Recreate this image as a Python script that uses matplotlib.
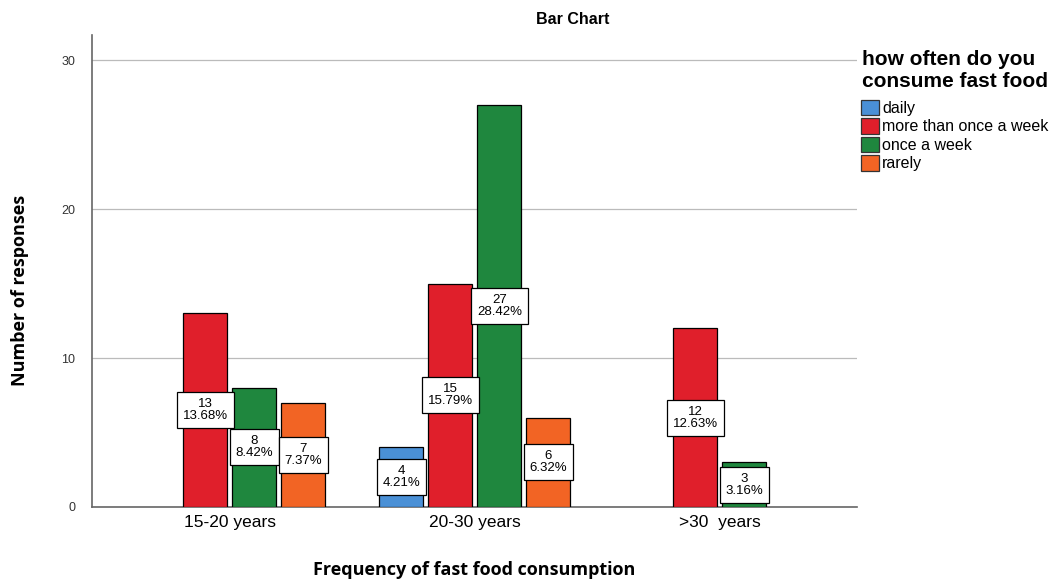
import numpy as np
import matplotlib
matplotlib.use("Agg")
import matplotlib.pyplot as plt

plt.rcParams['font.family'] = ['Liberation Sans', 'DejaVu Sans']

groups = ['15-20 years', '20-30 years', '>30  years']
series = ['daily', 'more than once a week', 'once a week', 'rarely']
counts = {
    'daily':                 [0, 4, 0],
    'more than once a week': [13, 15, 12],
    'once a week':           [8, 27, 3],
    'rarely':                [7, 6, 0],
}
colors = ['#4a90d6', '#e01f2b', '#1f873e', '#f26424']
total = 95

fig = plt.figure(figsize=(10.64, 5.81), dpi=100)
ax = fig.add_axes([0.0865, 0.1274, 0.719, 0.8124])

x = np.arange(len(groups))
slot = 0.2
width = 0.18
for i, (name, col) in enumerate(zip(series, colors)):
    vals = np.array(counts[name])
    xs = x + (i - 1.5) * slot
    keep = vals > 0
    ax.bar(xs[keep], vals[keep], width, color=col, edgecolor='black',
           linewidth=0.9, label=name, zorder=3)
    for xv, v in zip(xs[keep], vals[keep]):
        ax.text(xv, v / 2, f'{v}\n{v / total * 100:.2f}%', ha='center', va='center',
                fontsize=9.5, linespacing=1.0, zorder=4,
                bbox=dict(boxstyle='square,pad=0.45', fc='white', ec='black', lw=0.9))

ax.set_xlim(-0.563, 2.56)
ax.set_ylim(0, 31.7)
ax.set_yticks([0, 10, 20, 30])
ax.set_xticks(x)
ax.set_xticklabels(groups, fontsize=12.5)
ax.tick_params(axis='y', length=0, labelsize=9, labelcolor='#333333', pad=12)
ax.tick_params(axis='x', length=0, pad=6)
ax.grid(axis='y', color='#bbbbbb', linewidth=0.9, zorder=0)
for s in ['top', 'right']:
    ax.spines[s].set_visible(False)
ax.spines['left'].set_color('#666666')
ax.spines['bottom'].set_color('#666666')
ax.spines['left'].set_linewidth(1.2)
ax.spines['bottom'].set_linewidth(1.2)

fig.text(474 / 1064, 1 - 570 / 581, 'Frequency of fast food consumption', ha='center',
         va='center', fontsize=13, fontweight='bold', family='Open Sans')
fig.text(20 / 1064, 1 - 290 / 581, 'Number of responses', ha='center', va='center',
         rotation=90, fontsize=13, fontweight='bold', family='Open Sans')

fig.text(573 / 1064, 1 - 20 / 581, 'Bar Chart', ha='center', va='center',
         fontsize=11.5, fontweight='bold')

leg = ax.legend(loc='upper left', bbox_to_anchor=(855 / 1064, 1 - 44 / 581),
                bbox_transform=fig.transFigure, frameon=False, fontsize=11.5,
                title='how often do you\nconsume fast food',
                title_fontproperties={'weight': 'bold', 'size': 15},
                handlelength=1.1, handleheight=1.1, handletextpad=0.2,
                labelspacing=0.15, alignment='center', borderaxespad=0)
leg._legend_box.sep = 6
for h in leg.legend_handles:
    h.set_edgecolor('#333333')

fig.savefig('out.png', dpi=100)
